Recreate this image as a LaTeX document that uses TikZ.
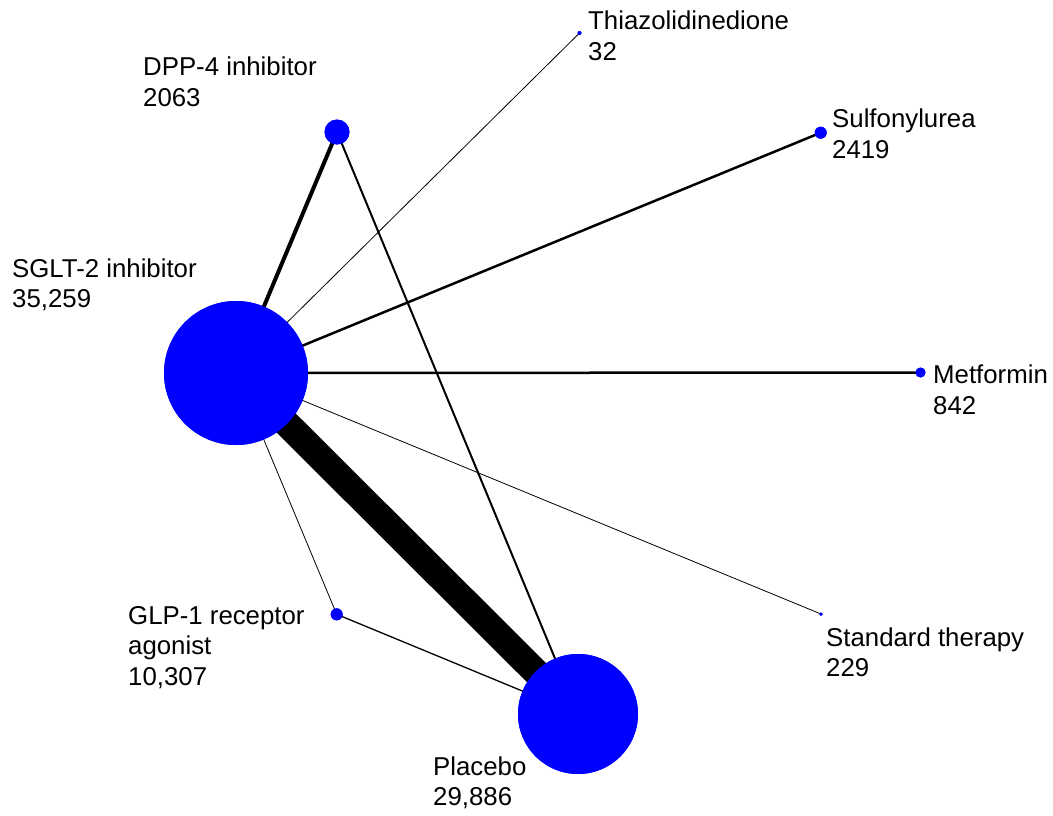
\documentclass[tikz,border=0pt]{standalone}
\usepackage{fontspec}
\setmainfont{Liberation Sans}
\begin{document}
\begin{tikzpicture}[x=1pt,y=-1pt,
  trt/.style={circle,fill=blue,draw=none,inner sep=0pt},
  lbl/.style={anchor=base west,align=left,inner sep=0pt,font=\fontsize{25.8}{30.5}\selectfont},
  link/.style={draw=black,line cap=butt}]
\useasboundingbox (0,0) rectangle (1053,815);
% treatments, sized by number of patients
\node[trt,minimum size=144] (sglt) at (236,373) {};
\node[trt,minimum size=120] (plac) at (578,714) {};
\node[trt,minimum size=25] (dpp) at (337,132) {};
\node[trt,minimum size=4] (tzd) at (579.5,33) {};
\node[trt,minimum size=12] (su) at (820.7,132.7) {};
\node[trt,minimum size=10] (met) at (920.5,372.5) {};
\node[trt,minimum size=3.5] (std) at (821,614) {};
\node[trt,minimum size=12] (glp) at (336.7,614.3) {};
% direct comparisons, width by number of trials
\draw[link,line width=27] (sglt.center) -- (plac.center);
\draw[link,line width=4] (sglt.center) -- (dpp.center);
\draw[link,line width=2] (dpp.center) -- (plac.center);
\draw[link,line width=0.8] (sglt.center) -- (tzd.center);
\draw[link,line width=2.5] (sglt.center) -- (su.center);
\draw[link,line width=2.5] (sglt.center) -- (met.center);
\draw[link,line width=0.8] (sglt.center) -- (std.center);
\draw[link,line width=0.8] (sglt.center) -- (glp.center);
\draw[link,line width=1.3] (glp.center) -- (plac.center);
% circles over the line ends
\fill[blue] (sglt.center) circle (72);
\fill[blue] (plac.center) circle (60);
\fill[blue] (dpp.center) circle (12.5);
\fill[blue] (tzd.center) circle (2);
\fill[blue] (su.center) circle (6);
\fill[blue] (met.center) circle (5);
\fill[blue] (std.center) circle (1.75);
\fill[blue] (glp.center) circle (6);
% labels (anchored at the baseline of the last line)
\node[lbl] (ldpp) at (143,106) {DPP-4 inhibitor\\2063};
\node[lbl] (ltzd) at (588,60) {Thiazolidinedione\\32};
\node[lbl] (lsu) at (832,158) {Sulfonylurea\\2419};
\node[lbl] (lsglt) at (12,307.5) {SGLT-2 inhibitor\\35,259};
\node[lbl] (lmet) at (933,414) {Metformin\\842};
\node[lbl] (lglp) at (128,685) {GLP-1 receptor\\agonist\\10,307};
\node[lbl] (lstd) at (826,676.5) {Standard therapy\\229};
\node[lbl] (lplac) at (433,805.5) {Placebo\\29,886};
\end{tikzpicture}
\end{document}
